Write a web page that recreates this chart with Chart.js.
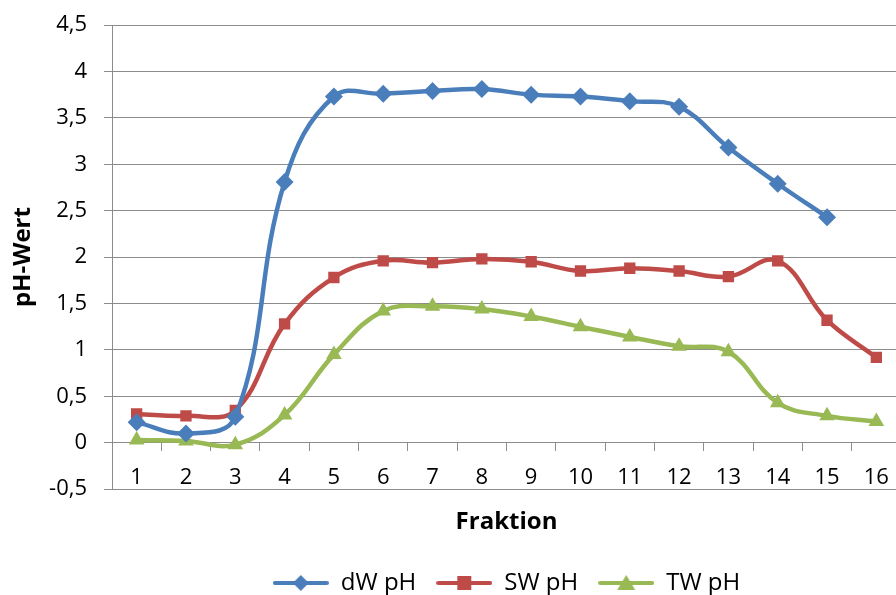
<!DOCTYPE html>
<html>
<head>
<meta charset="utf-8">
<script src="https://cdn.jsdelivr.net/npm/chart.js@4"></script>
<style>
  html, body { margin: 0; padding: 0; background: #fff; overflow: hidden; }
  #wrap { position: relative; width: 910px; height: 595px; }
</style>
</head>
<body>
<div id="wrap"><canvas id="chart"></canvas></div>
<script>
// Fractions 1..16
const fractions = ["1", "2", "3", "4", "5", "6", "7", "8", "9", "10", "11", "12", "13", "14", "15", "16"];

// pH values
const dwPh = [0.22, 0.10, 0.28, 2.81, 3.73, 3.76, 3.79, 3.81, 3.75, 3.73, 3.68, 3.62, 3.18, 2.79, 2.43, null];
const swPh = [0.31, 0.29, 0.35, 1.28, 1.78, 1.96, 1.94, 1.98, 1.95, 1.85, 1.88, 1.85, 1.79, 1.96, 1.32, 0.92];
const twPh = [0.03, 0.02, -0.02, 0.30, 0.95, 1.42, 1.47, 1.44, 1.36, 1.25, 1.14, 1.04, 0.98, 0.43, 0.29, 0.23];

const yTicks = [-0.5, 0, 0.5, 1, 1.5, 2, 2.5, 3, 3.5, 4, 4.5];

const COLORS = { dw: "#4a7ebb", sw: "#be4b48", tw: "#98b954" };
const GRID = "#8c8c8c";
const FONT = "'Open Sans', 'Noto Sans', sans-serif";

// Legend swatch: line with the marker in the middle
function legendSwatch(color, style) {
  const c = document.createElement("canvas");
  c.width = 56;
  c.height = 20;
  const ctx = c.getContext("2d");
  ctx.strokeStyle = color;
  ctx.lineWidth = 4;
  ctx.lineCap = "round";
  ctx.beginPath();
  ctx.moveTo(2, 10);
  ctx.lineTo(54, 10);
  ctx.stroke();
  ctx.fillStyle = color;
  ctx.beginPath();
  if (style === "rectRot") {
    ctx.moveTo(28, 2); ctx.lineTo(36, 10); ctx.lineTo(28, 18); ctx.lineTo(20, 10);
  } else if (style === "rect") {
    ctx.rect(21, 3, 14, 14);
  } else {
    ctx.moveTo(28, 2); ctx.lineTo(37, 17); ctx.lineTo(19, 17);
  }
  ctx.closePath();
  ctx.fill();
  return c;
}

function series(label, data, color, pointStyle, radius) {
  return {
    label: label,
    data: data,
    borderColor: color,
    backgroundColor: color,
    borderWidth: 4.5,
    tension: 0.4,
    pointStyle: pointStyle,
    pointRadius: radius,
    pointHoverRadius: radius,
    pointBorderWidth: 0,
    spanGaps: false,
    swatch: legendSwatch(color, pointStyle),
  };
}

new Chart(document.getElementById("chart"), {
  type: "line",
  data: {
    labels: fractions,
    datasets: [
      series("dW pH", dwPh, COLORS.dw, "rectRot", 9),
      series("SW pH", swPh, COLORS.sw, "rect", 8),
      series("TW pH", twPh, COLORS.tw, "triangle", 9),
    ],
  },
  options: {
    responsive: true,
    maintainAspectRatio: false,
    animation: false,
    layout: { padding: { top: 25, right: 8, bottom: -10, left: 0 } },
    plugins: {
      tooltip: { enabled: false },
      title: {
        display: true,
        text: "Fraktion",
        position: "bottom",
        fullSize: false,
        weight: 500,
        color: "#000",
        font: { family: FONT, size: 24, weight: "bold" },
        padding: { top: 19, bottom: 14 },
      },
      legend: {
        position: "bottom",
        fullSize: false,
        weight: 1000,
        labels: {
          color: "#000",
          font: { family: FONT, size: 24 },
          usePointStyle: true,
          pointStyleWidth: 56,
          padding: 20,
          generateLabels(chart) {
            return chart.data.datasets.map((ds, i) => ({
              text: ds.label,
              pointStyle: ds.swatch,
              fillStyle: ds.borderColor,
              strokeStyle: ds.borderColor,
              lineWidth: 0,
              hidden: false,
              datasetIndex: i,
            }));
          },
        },
      },
    },
    scales: {
      x: {
        type: "category",
        position: { y: 0 },
        offset: true,
        afterFit(scale) { scale.height = 0; },
        grid: {
          offset: true,
          drawOnChartArea: false,
          drawTicks: true,
          tickLength: 8,
          color: GRID,
        },
        border: { display: true, color: GRID, width: 1 },
        ticks: {
          color: "#000",
          padding: 14,
          maxRotation: 0,
          autoSkip: false,
          font: { family: FONT, size: 22 },
        },
      },
      y: {
        min: -0.5,
        max: 4.5,
        afterFit(scale) {
          scale.width = 112;
          scale.paddingTop = 0;
        },
        afterBuildTicks(scale) { scale.ticks = yTicks.map((v) => ({ value: v })); },
        grid: { color: GRID, tickLength: 8, drawTicks: true },
        border: { display: true, color: GRID, width: 1 },
        ticks: {
          color: "#000",
          padding: 17,
          font: { family: FONT, size: 22 },
          callback: (v) => String(v).replace(".", ","),
        },
        title: {
          display: true,
          text: "pH-Wert",
          color: "#000",
          font: { family: FONT, size: 24, weight: "bold" },
          padding: { top: 9, bottom: 0 },
        },
      },
    },
  },
});
</script>
</body>
</html>
